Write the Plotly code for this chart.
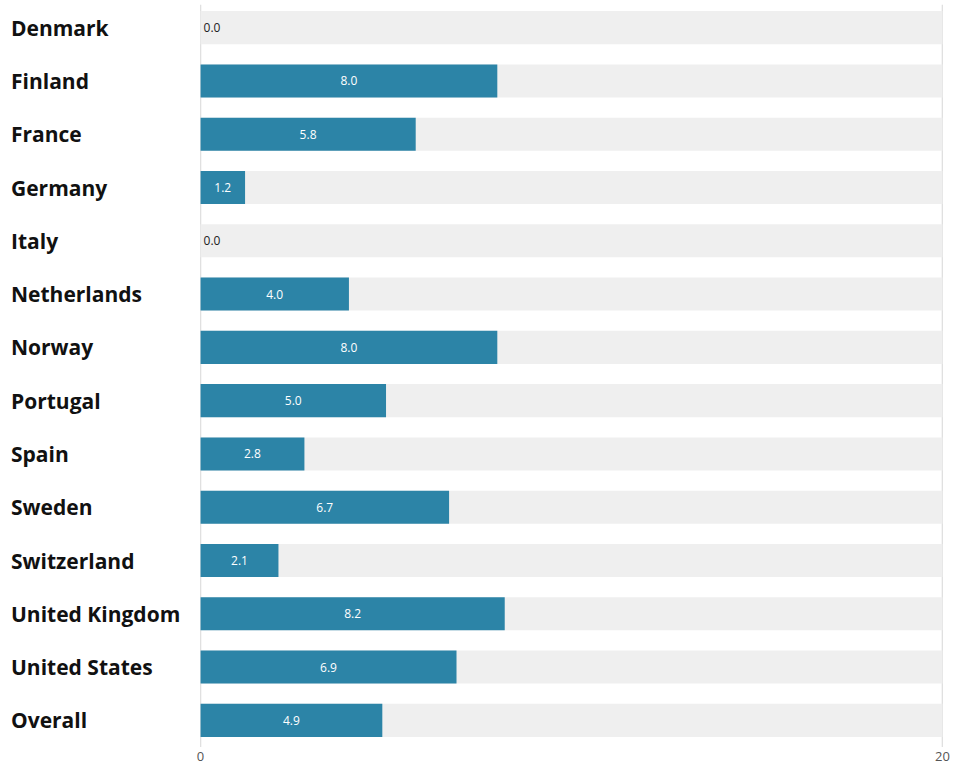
import plotly.graph_objects as go

countries = ["Denmark", "Finland", "France", "Germany", "Italy", "Netherlands", "Norway",
             "Portugal", "Spain", "Sweden", "Switzerland", "United Kingdom", "United States", "Overall"]
values = [0.0, 8.0, 5.8, 1.2, 0.0, 4.0, 8.0, 5.0, 2.8, 6.7, 2.1, 8.2, 6.9, 4.9]
axis_max = 20
x_ticks = [0, 20]

W, H = 960, 771
ml, mr, mt, mb = 200, 17, 1, 24
pw = W - ml - mr
pad = 0.015

fig = go.Figure()
fig.add_trace(go.Bar(
    y=countries, x=[axis_max] * len(countries), orientation="h",
    marker=dict(color="#efefef", line=dict(width=0)), width=0.62,
    hoverinfo="skip", showlegend=False))
fig.add_trace(go.Bar(
    y=countries, x=values, orientation="h",
    marker=dict(color="#2c84a7", line=dict(width=0)), width=0.62,
    text=[f"{v:.1f}" for v in values],
    textposition=["outside" if v == 0 else "inside" for v in values],
    insidetextanchor="middle",
    insidetextfont=dict(color="white", size=12, family="Open Sans"),
    outsidetextfont=dict(color="#222", size=12, family="Open Sans"),
    cliponaxis=False, showlegend=False))

for t in x_ticks:
    fig.add_shape(type="line", xref="x", yref="paper", x0=t, x1=t, y0=0, y1=0.995,
                  line=dict(color="#e0e0e0", width=1.5), layer="below")

for c in countries:
    fig.add_annotation(x=(9 - ml) / pw, xref="paper", y=c, yref="y", text=f"<b>{c}</b>",
                       showarrow=False, xanchor="left", yanchor="middle",
                       font=dict(family="Open Sans", size=21, color="#111"))

fig.update_layout(
    width=W, height=H, barmode="overlay",
    margin=dict(l=ml, r=mr, t=mt, b=mb),
    plot_bgcolor="white", paper_bgcolor="white",
    xaxis=dict(range=[-pad, axis_max + pad], tickvals=x_ticks, showgrid=False,
               zeroline=False, showline=False, ticklen=0,
               tickfont=dict(family="Open Sans", size=13, color="#555")),
    yaxis=dict(categoryorder="array", categoryarray=countries, autorange="reversed",
               showticklabels=False, showgrid=False, zeroline=False),
)
fig.write_html("out.html")
